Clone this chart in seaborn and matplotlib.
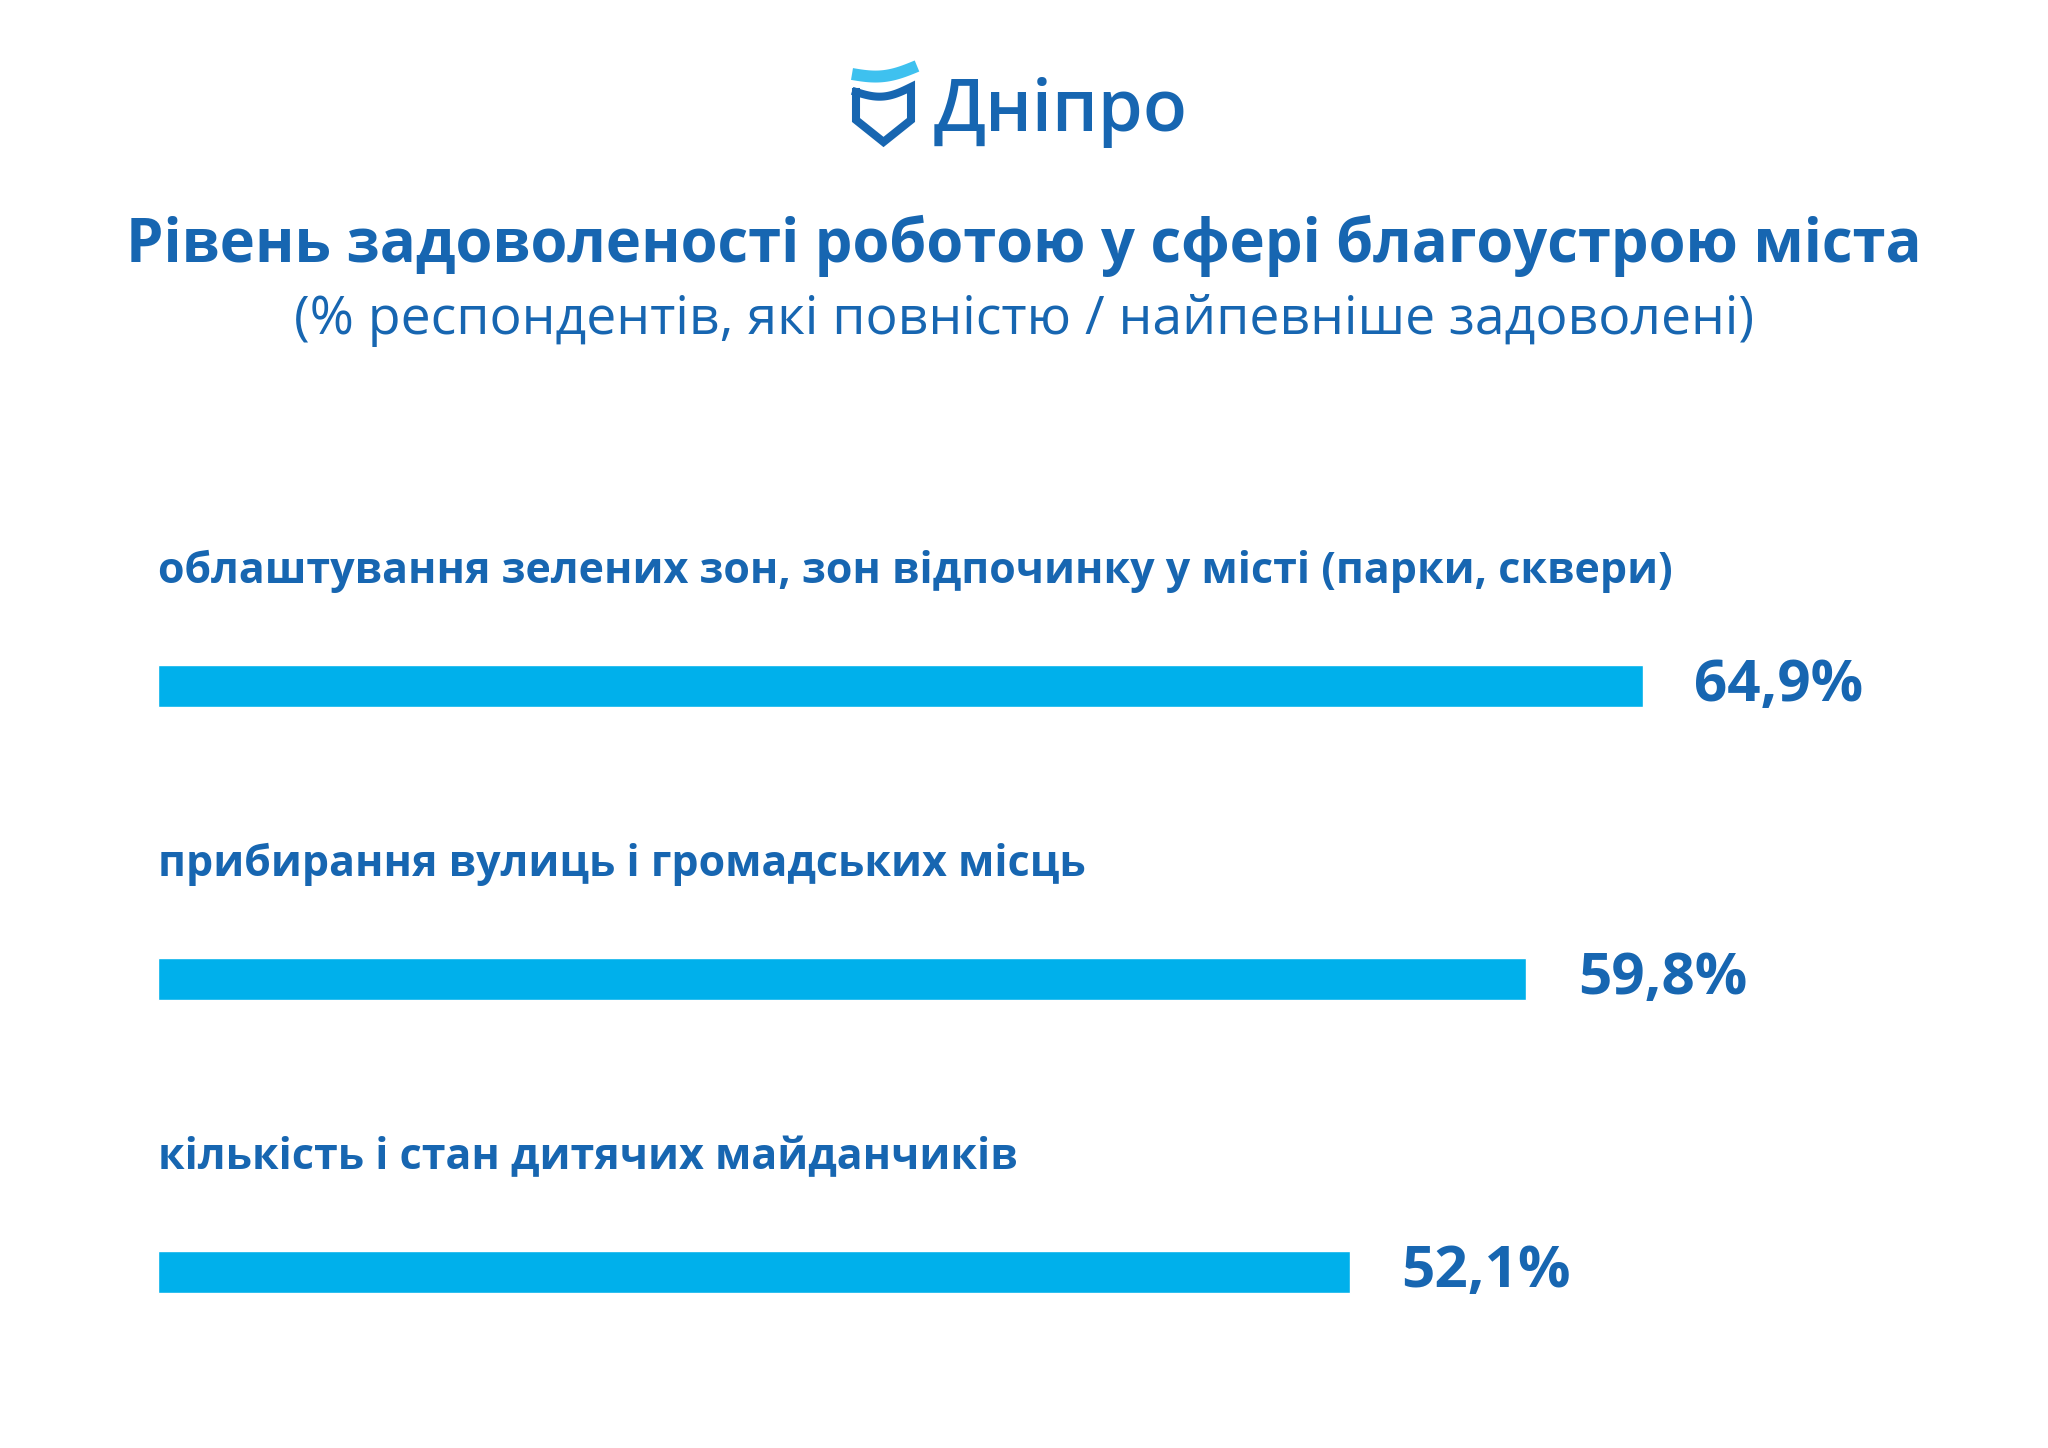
import numpy as np
import pandas as pd
import matplotlib
matplotlib.use('Agg')
import matplotlib.pyplot as plt
from matplotlib import font_manager
import seaborn as sns

# Data
categories = [
    'облаштування зелених зон, зон відпочинку у місті (парки, сквери)',
    'прибирання вулиць і громадських місць',
    'кількість і стан дитячих майданчиків',
]
values = [64.9, 59.8, 52.1]
value_labels = ['64,9%', '59,8%', '52,1%']

title = 'Рівень задоволеності роботою у сфері благоустрою міста'
subtitle = '(% респондентів, які повністю / найпевніше задоволені)'
brand = 'Дніпро'

# Colours
dark_blue = '#1766b1'
bar_blue = '#00b0eb'
wave_blue = '#3ec1ef'

sns.set_theme(style='white')
installed = {f.name for f in font_manager.fontManager.ttflist}
narrow = 'Open Sans'
for name in ['Liberation Sans Narrow', 'DejaVu Sans Condensed', 'Open Sans']:
    if name in installed:
        narrow = name
        break
plt.rcParams['font.family'] = [narrow, 'DejaVu Sans']

W, H = 2048, 1448
fig = plt.figure(figsize=(W / 100, H / 100), dpi=100)
fig.patch.set_facecolor('white')

# Bar axes: 0% at x=158px, 22.88 px per percent
left_px, right_px = 158, 2000
top_px, bot_px = 393, 1418.5
ax = fig.add_axes([left_px / W, 1 - bot_px / H, (right_px - left_px) / W, (bot_px - top_px) / H])
df = pd.DataFrame({'cat': categories, 'val': values})
sns.barplot(data=df, x='val', y='cat', orient='h', color=bar_blue, width=0.145,
            saturation=1, ax=ax)
ax.set_xlim(0, (right_px - left_px) / 22.88)
ax.set_ylim(2.5, -1.0)
ax.axis('off')

for i, (c, v, lab) in enumerate(zip(categories, values, value_labels)):
    ax.text(0, i - 0.39, c, ha='left', va='center', fontsize=31, fontweight='bold',
            color=dark_blue)
    ax.text(v + 2.25, i, lab, ha='left', va='center', fontsize=42, fontweight='bold',
            color=dark_blue)

# Titles
fig.text(0.5, 1 - 246 / H, title, ha='center', va='center', fontsize=43,
         fontweight='bold', color=dark_blue)
fig.text(0.5, 1 - 320 / H, subtitle, ha='center', va='center', fontsize=38.5,
         color=dark_blue)

# Logo (pixel coordinates, y down)
lax = fig.add_axes([0, 0, 1, 1])
lax.set_xlim(0, W)
lax.set_ylim(H, 0)
lax.axis('off')
u = np.linspace(0, 1, 40)
# shield outline: wavy top, straight sides, pointed bottom
top_x = 856 + 55 * u
top_y = 92 - 5 * u + 7 * np.sin(np.pi * u)
sx = np.concatenate([top_x, [911, 883.5, 856, 856]])
sy = np.concatenate([top_y, [120, 142, 120, 92]])
lax.plot(sx, sy, color=dark_blue, lw=5.8, solid_joinstyle='miter', solid_capstyle='projecting')
# wave above the shield
wx = 852 + 65 * u
wy = 74 - 8 * u + 6 * np.sin(np.pi * u)
lax.plot(wx, wy, color=wave_blue, lw=8.6, solid_capstyle='butt')
lax.text(934, 112, brand, ha='left', va='center', fontsize=52, color=dark_blue,
         fontweight='semibold')

fig.savefig('out.png', dpi=100, facecolor='white')
